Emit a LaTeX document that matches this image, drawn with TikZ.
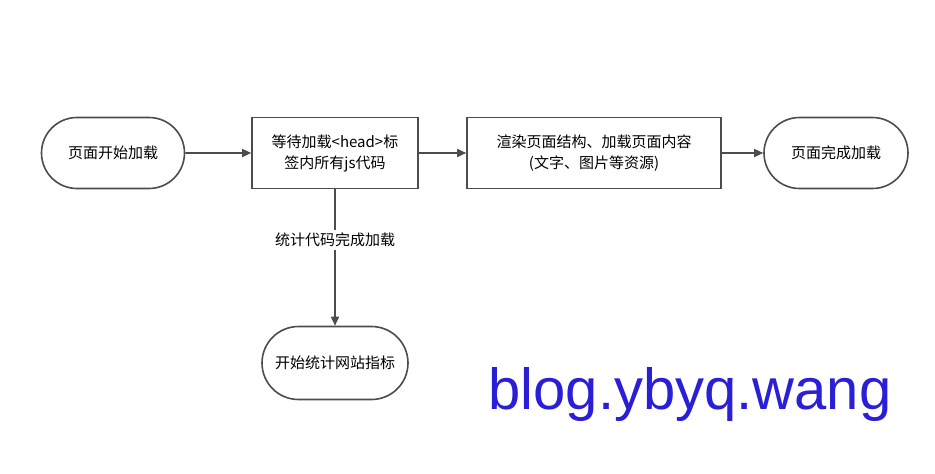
\documentclass[tikz,border=0pt]{standalone}
\usepackage{fontspec}
\setmainfont{Noto Sans CJK SC}
\newfontfamily\wm{Liberation Sans}
\usetikzlibrary{arrows.meta,shapes.misc}
\begin{document}
\begin{tikzpicture}[x=1pt,y=-1pt,
  box/.style={draw=black!70,line width=1.6pt,fill=white,minimum width=#1,minimum height=71pt,align=center,font=\fontsize{15}{21}\selectfont,inner sep=2pt},
  term/.style={box=#1,rounded rectangle},
  arr/.style={draw=black!70,line width=1.6pt,-{Triangle[length=9pt,width=8pt]}}]
\useasboundingbox (0,0) rectangle (935,474);
\node[term=147pt] (a) at (113,153) {页面开始加载};
\node[box=166pt,rectangle] (b) at (335,153) {等待加载<head>标\\签内所有js代码};
\node[box=254pt,rectangle] (c) at (594,153) {渲染页面结构、加载页面内容\\(文字、图片等资源)};
\node[term=148pt] (d) at (836,153) {页面完成加载};
\node[term=150pt,minimum height=73pt] (e) at (335,363) {开始统计网站指标};
\draw[arr] (a) -- (b);
\draw[arr] (b) -- (c);
\draw[arr] (c) -- (d);
\draw[arr] (b) -- node[fill=white,font=\fontsize{15}{18}\selectfont,inner sep=3pt,pos=0.37]{统计代码完成加载} (e);
\node[font=\wm\fontsize{58}{58}\selectfont,text=blue!75!black!80!cyan!0,color={rgb,255:red,42;green,31;blue,214},anchor=center] at (690,394) {blog.ybyq.wang};
\end{tikzpicture}
\end{document}
